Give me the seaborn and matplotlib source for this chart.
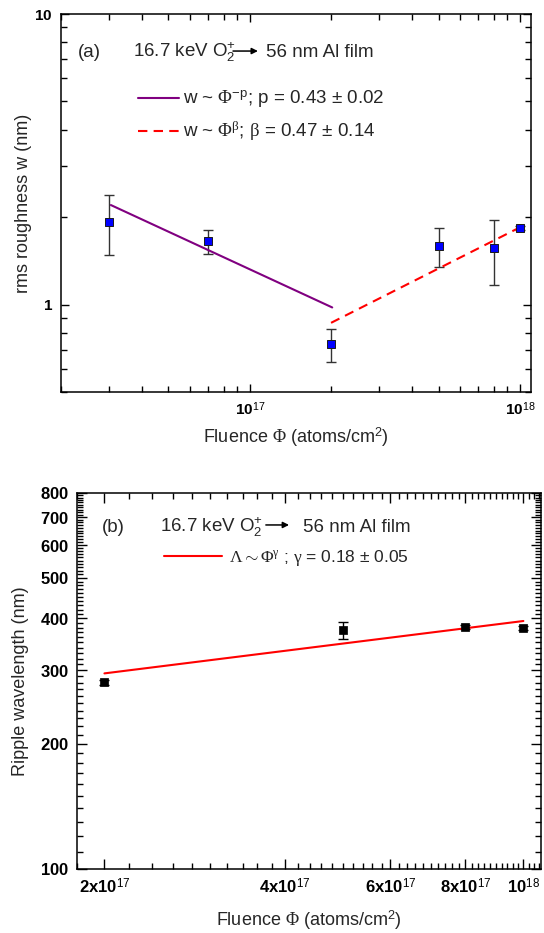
import numpy as np
import pandas as pd
import matplotlib
matplotlib.use("Agg")
import matplotlib.pyplot as plt
import seaborn as sns
from matplotlib.ticker import FixedLocator, FixedFormatter, NullFormatter

# ---------------- data ----------------
# (a) rms roughness versus fluence
fluence_a = [3e16, 7e16, 2e17, 5e17, 8e17, 1e18]
roughness = [1.93, 1.65, 0.73, 1.59, 1.56, 1.83]
roughness_err = [0.45, 0.16, 0.095, 0.24, 0.39, 0.03]

# power-law fits in (a): exponent, fitted range, fit value at range start
p_exp = -0.43
p_range = [3.06e16, 2.02e17]
p_start = 2.20
beta_exp = 0.47
beta_range = [2.0e17, 1.03e18]
beta_start = 0.865

# (b) ripple wavelength versus fluence
fluence_b = [2e17, 5e17, 8e17, 1e18]
wavelength = [281, 374, 382, 380]
wavelength_err = [4, 17, 4, 4]
gamma_exp = 0.18
gamma_range = [2.0e17, 1.0e18]
gamma_start = 295

# tick positions and labels
a_yticks = [1, 10]
a_yticklabels = [r'$\mathbf{1}$', r'$\mathbf{10}$']
a_xticks = [1e17, 1e18]
a_xticklabels = [r'$\mathbf{10}^{\mathsf{17}}$', r'$\mathbf{10}^{\mathsf{18}}$']
b_yticks = [100, 200, 300, 400, 500, 600, 700, 800]
b_yticklabels = [r'$\mathbf{%d}$' % v for v in b_yticks]
b_xticks = [2e17, 4e17, 6e17, 8e17, 1e18]
b_xticklabels = [r'$\mathbf{2x10}^{\mathsf{17}}$', r'$\mathbf{4x10}^{\mathsf{17}}$',
                 r'$\mathbf{6x10}^{\mathsf{17}}$', r'$\mathbf{8x10}^{\mathsf{17}}$',
                 r'$\mathbf{10}^{\mathsf{18}}$']

# ---------------- style ----------------
sns.set_style("ticks")
plt.rcParams['font.family'] = ['Liberation Sans', 'DejaVu Sans']
plt.rcParams['mathtext.fontset'] = 'custom'
plt.rcParams['mathtext.rm'] = 'Liberation Serif'
plt.rcParams['mathtext.it'] = 'Liberation Serif:italic'
plt.rcParams['mathtext.bf'] = 'Liberation Sans:bold'
plt.rcParams['mathtext.sf'] = 'Liberation Sans'
plt.rcParams['axes.linewidth'] = 1.1

TXT = 13.5


def power_line(x_range, start, exponent):
    x = np.array(x_range, dtype=float)
    y = start * (x / x[0]) ** exponent
    return pd.DataFrame({'x': x, 'y': y})


def style_axes(ax, major_len=5, minor_len=3, width=1.0):
    ax.tick_params(which='both', direction='in', top=True, right=True,
                   width=width, colors='black')
    ax.tick_params(which='major', length=major_len)
    ax.tick_params(which='minor', length=minor_len)
    for s in ax.spines.values():
        s.set_color('black')
        s.set_linewidth(1.1)


def arrow(ax, x0, x1, y):
    ax.annotate('', xy=(x1, y), xytext=(x0, y), xycoords='axes fraction',
                arrowprops=dict(arrowstyle='-|>', color='black', lw=1.1,
                                mutation_scale=9, shrinkA=0, shrinkB=0))


fig = plt.figure(figsize=(5.44, 9.33), dpi=100)
ax_a = fig.add_axes([61 / 544, 1 - 392 / 933, 470 / 544, 378 / 933])
ax_b = fig.add_axes([77 / 544, 1 - 869 / 933, 464 / 544, 376 / 933])

# ---------------- panel (a) ----------------
ax_a.set_xscale('log')
ax_a.set_yscale('log')
df_a = pd.DataFrame({'fluence': fluence_a, 'w': roughness, 'err': roughness_err})
ax_a.errorbar(df_a['fluence'], df_a['w'], yerr=df_a['err'], fmt='none',
              ecolor='#333333', elinewidth=1.0, capsize=3.5, capthick=1.0, zorder=2)
fit_p = power_line(p_range, p_start, p_exp)
fit_b = power_line(beta_range, beta_start, beta_exp)
sns.lineplot(data=fit_p, x='x', y='y', ax=ax_a, color='#800080', lw=1.5, zorder=3)
line_p = ax_a.lines[-1]
sns.lineplot(data=fit_b, x='x', y='y', ax=ax_a, color='#ff0000', lw=1.5, zorder=3)
line_b = ax_a.lines[-1]
line_b.set_dashes((4.5, 3.0))
sns.scatterplot(data=df_a, x='fluence', y='w', ax=ax_a, marker='s', s=28,
                color='#0000ff', edgecolor='#1a1a1a', linewidth=0.7, zorder=4)

ax_a.set_xlim(2e16, 1.1e18)
ax_a.set_ylim(0.5, 10)
ax_a.xaxis.set_major_locator(FixedLocator(a_xticks))
ax_a.xaxis.set_major_formatter(FixedFormatter(a_xticklabels))
ax_a.xaxis.set_minor_locator(FixedLocator(
    [m * 10 ** e for e in (16, 17) for m in range(2, 10)]))
ax_a.xaxis.set_minor_formatter(NullFormatter())
ax_a.yaxis.set_major_locator(FixedLocator(a_yticks))
ax_a.yaxis.set_major_formatter(FixedFormatter(a_yticklabels))
ax_a.yaxis.set_minor_locator(FixedLocator(
    [m * 10 ** e for e in (-1, 0) for m in range(2, 10)]))
ax_a.yaxis.set_minor_formatter(NullFormatter())
style_axes(ax_a, major_len=6, minor_len=4)
ax_a.tick_params(which='major', labelsize=11, pad=6)
ax_a.set_xlabel(r'Fluence $\Phi$ (atoms/cm$^{\mathsf{2}}$)', fontsize=13, labelpad=5)
ax_a.set_ylabel('rms roughness w (nm)', fontsize=13, labelpad=2)

ax_a.text(0.036, 0.885, '(a)', transform=ax_a.transAxes, fontsize=TXT, va='baseline')
ax_a.text(0.153, 0.885, r'16.7 keV O$_{\mathsf{2}}^{\mathsf{+}}$', transform=ax_a.transAxes,
          fontsize=TXT, va='baseline')
arrow(ax_a, 0.366, 0.419, 0.902)
ax_a.text(0.436, 0.885, '56 nm Al film', transform=ax_a.transAxes, fontsize=TXT,
          va='baseline')

ax_a.legend(handles=[line_p, line_b],
            labels=[r'w ~ $\Phi^{\mathsf{-p}}$; p = 0.43 ± 0.02',
                    r'w ~ $\Phi^{\mathrm{\beta}}$; $\mathrm{\beta}$ = 0.47 ± 0.14'],
            loc='center left', bbox_to_anchor=(0.164, 0.730), frameon=False,
            fontsize=TXT, handlelength=2.2, handletextpad=0.19, borderpad=0,
            borderaxespad=0, labelspacing=0.5)

# ---------------- panel (b) ----------------
ax_b.set_xscale('log')
ax_b.set_yscale('log')
df_b = pd.DataFrame({'fluence': fluence_b, 'lam': wavelength, 'err': wavelength_err})
ax_b.errorbar(df_b['fluence'], df_b['lam'], yerr=df_b['err'], fmt='none',
              ecolor='black', elinewidth=1.0, capsize=3.5, capthick=1.0, zorder=2)
fit_g = power_line(gamma_range, gamma_start, gamma_exp)
sns.lineplot(data=fit_g, x='x', y='y', ax=ax_b, color='#ff0000', lw=1.5, zorder=3)
line_g = ax_b.lines[-1]
sns.scatterplot(data=df_b, x='fluence', y='lam', ax=ax_b, marker='s', s=32,
                color='black', edgecolor='black', linewidth=0.5, zorder=4)

ax_b.set_xlim(1.8e17, 1.07e18)
ax_b.set_ylim(100, 800)
ax_b.xaxis.set_major_locator(FixedLocator(b_xticks))
ax_b.xaxis.set_major_formatter(FixedFormatter(b_xticklabels))
ax_b.xaxis.set_minor_locator(FixedLocator(
    [v * 1e16 for v in range(18, 108, 2) if v % 20 != 0]))
ax_b.xaxis.set_minor_formatter(NullFormatter())
ax_b.yaxis.set_major_locator(FixedLocator(b_yticks))
ax_b.yaxis.set_major_formatter(FixedFormatter(b_yticklabels))
ax_b.yaxis.set_minor_locator(FixedLocator(
    [v for v in range(100, 810, 10) if v % 100 != 0]))
ax_b.yaxis.set_minor_formatter(NullFormatter())
style_axes(ax_b, major_len=7, minor_len=4)
ax_b.tick_params(which='major', labelsize=12, pad=6)
ax_b.set_xlabel(r'Fluence $\Phi$ (atoms/cm$^{\mathsf{2}}$)', fontsize=13, labelpad=9)
ax_b.set_ylabel('Ripple wavelength (nm)', fontsize=13, labelpad=8)

ax_b.text(0.054, 0.896, '(b)', transform=ax_b.transAxes, fontsize=TXT, va='baseline')
ax_b.text(0.179, 0.896, r'16.7 keV O$_{\mathsf{2}}^{\mathsf{+}}$', transform=ax_b.transAxes,
          fontsize=TXT, va='baseline')
arrow(ax_b, 0.407, 0.457, 0.915)
ax_b.text(0.487, 0.896, '56 nm Al film', transform=ax_b.transAxes, fontsize=TXT,
          va='baseline')

ax_b.legend(handles=[line_g],
            labels=[r'$\mathrm{\Lambda}\sim\mathrm{\Phi}^{\mathrm{\gamma}}$ ; $\mathrm{\gamma}$ = 0.18 ± 0.05'],
            loc='center left', bbox_to_anchor=(0.1875, 0.827), frameon=False,
            fontsize=12.5, handlelength=3.35, handletextpad=0.38, borderpad=0,
            borderaxespad=0)

fig.savefig('out.png', dpi=100)
